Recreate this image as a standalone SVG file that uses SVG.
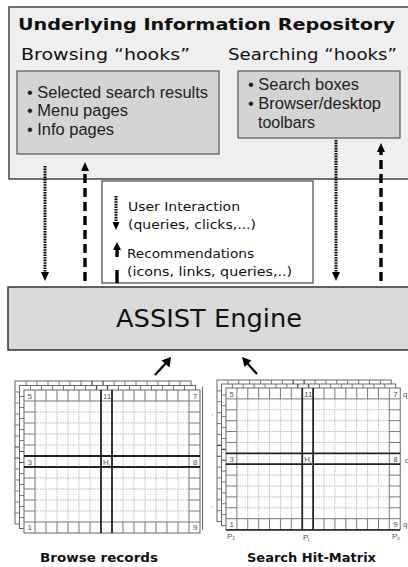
<svg xmlns="http://www.w3.org/2000/svg" xmlns:xlink="http://www.w3.org/1999/xlink" width="408" height="567" viewBox="0 0 408 567">
<style>
.v{font-family:"DejaVu Sans",Verdana,sans-serif;fill:#111}
.vb{font-family:"DejaVu Sans",Verdana,sans-serif;font-weight:bold;fill:#111}
.a{font-family:"Liberation Sans",Arial,sans-serif;fill:#222}
.lab{font-family:"Liberation Sans",Arial,sans-serif;font-size:8px;fill:#555}
.dot{stroke:#000;stroke-width:3;stroke-dasharray:1.6 1;fill:none}
.dash{stroke:#000;stroke-width:3.4;stroke-dasharray:9 5;fill:none}
.head{fill:#000}
.bd{stroke:#777;stroke-width:1;fill:none}
.in{stroke:#bbb;stroke-width:1;stroke-dasharray:1.5 1;fill:none}
.tk{stroke:#222;stroke-width:1.8;fill:none}
.tkb{stroke:#444;stroke-width:1.2;fill:none}
</style>
<defs>
<g id="grid">
<rect x="0" y="0" width="176" height="143" fill="#fff" stroke="#666" stroke-width="1"/>
<path class="in" d="M22,11V132M33,11V132M44,11V132M55,11V132M66,11V132M99,11V132M110,11V132M121,11V132M132,11V132M143,11V132M154,11V132M11,22H165M11,33H165M11,44H165M11,55H165M11,88H165M11,99H165M11,110H165M11,121H165"/>
<path class="bd" d="M0,11H176M0,132H176M11,0V143M165,0V143M22,0V11M33,0V11M44,0V11M55,0V11M66,0V11M99,0V11M110,0V11M121,0V11M132,0V11M143,0V11M154,0V11M22,132V143M33,132V143M44,132V143M55,132V143M66,132V143M99,132V143M110,132V143M121,132V143M132,132V143M143,132V143M154,132V143M0,22H11M0,33H11M0,44H11M0,55H11M0,88H11M0,99H11M0,110H11M0,121H11M165,22H176M165,33H176M165,44H176M165,55H176M165,88H176M165,99H176M165,110H176M165,121H176"/>
</g>
<g id="sheet">
<use xlink:href="#grid"/>
<path class="tk" d="M77,0V143M88,0V143M0,66H176M0,77H176"/>
</g>
<g id="sheetback">
<use xlink:href="#grid"/>
<path class="tkb" d="M77,0V143M88,0V143M0,66H176M0,77H176"/>
</g>
<g id="labels">
<text class="lab" x="3.5" y="9">5</text>
<text class="lab" x="79" y="9">11</text>
<text class="lab" x="169" y="9">7</text>
<text class="lab" x="3.5" y="75">3</text>
<text class="lab" x="79" y="75">H<tspan font-size="5" dy="1.5">j</tspan></text>
<text class="lab" x="169" y="75">8</text>
<text class="lab" x="3.5" y="140">1</text>
<text class="lab" x="169" y="140">9</text>
</g>
</defs>

<g id="repository">
<rect x="9" y="7" width="405" height="172" fill="#efefef" stroke="#444" stroke-width="1.5"/>
<text class="vb" x="18" y="30" font-size="15.5" textLength="377" lengthAdjust="spacingAndGlyphs">Underlying Information Repository</text>
</g>
<g id="browsing-hooks">
<text class="v" x="21" y="60" font-size="15" textLength="169" lengthAdjust="spacingAndGlyphs">Browsing “hooks”</text>
<rect x="17" y="71" width="202" height="83" fill="#d4d4d4" stroke="#555" stroke-width="1.2"/>
<text class="a" x="27" y="98" font-size="16" textLength="181" lengthAdjust="spacingAndGlyphs">• Selected search results</text>
<text class="a" x="27" y="116" font-size="16" textLength="101" lengthAdjust="spacingAndGlyphs">• Menu pages</text>
<text class="a" x="27" y="135" font-size="16" textLength="87" lengthAdjust="spacingAndGlyphs">• Info pages</text>
</g>
<g id="searching-hooks">
<text class="v" x="228" y="60" font-size="15" textLength="169" lengthAdjust="spacingAndGlyphs">Searching “hooks”</text>
<rect x="238" y="71" width="162" height="67" fill="#d4d4d4" stroke="#555" stroke-width="1.2"/>
<text class="a" x="248" y="90" font-size="16" textLength="111" lengthAdjust="spacingAndGlyphs">• Search boxes</text>
<text class="a" x="248" y="109" font-size="16" textLength="133" lengthAdjust="spacingAndGlyphs">• Browser/desktop</text>
<text class="a" x="258" y="128" font-size="16" textLength="57" lengthAdjust="spacingAndGlyphs">toolbars</text>
</g>

<g id="legend">
<rect x="102" y="181" width="211" height="102" fill="#fff" stroke="#444" stroke-width="1.2"/>
<path class="dot" d="M116,196V223"/>
<path class="head" d="M112.5,222L119.5,222L116,230Z"/>
<text class="v" x="128" y="211" font-size="13" textLength="112" lengthAdjust="spacingAndGlyphs">User Interaction</text>
<text class="v" x="128" y="229" font-size="13" textLength="128" lengthAdjust="spacingAndGlyphs">(queries, clicks,...)</text>
<path class="head" d="M113,250L121,250L117,242Z"/>
<path stroke="#000" stroke-width="3.4" d="M117,249V257M117,270V283"/>
<text class="v" x="127" y="258" font-size="13" textLength="127" lengthAdjust="spacingAndGlyphs">Recommendations</text>
<text class="v" x="127" y="276" font-size="13" textLength="165" lengthAdjust="spacingAndGlyphs">(icons, links, queries,..)</text>
</g>

<g id="engine">
<rect x="8" y="287" width="405" height="63" fill="#d9d9d9" stroke="#333" stroke-width="1.5"/>
<text class="v" x="116" y="327" font-size="24" textLength="186" lengthAdjust="spacingAndGlyphs">ASSIST Engine</text>
</g>

<g id="connectors">
<path class="dot" d="M45,166V273"/>
<path class="head" d="M41,272L49,272L45,281Z"/>
<path class="dash" d="M85,281V170"/>
<path class="head" d="M81,171L89,171L85,162Z"/>
<path class="dot" d="M336,140V273"/>
<path class="head" d="M332,272L340,272L336,281Z"/>
<path class="dash" d="M381,281V151"/>
<path class="head" d="M377,152L385,152L381,143Z"/>
<path stroke="#000" stroke-width="2.2" d="M155,375L166,363"/>
<path class="head" d="M171,357L169.5,367.5L161.5,360.5Z"/>
<path stroke="#000" stroke-width="2.2" d="M257,374L247,363"/>
<path class="head" d="M242,357L251.5,360.5L244.5,367Z"/>
</g>

<g id="browse-records">
<use xlink:href="#sheetback" x="15" y="381"/>
<use xlink:href="#sheetback" x="19.5" y="385.5"/>
<use xlink:href="#sheet" x="24" y="390"/>
<use xlink:href="#labels" x="24" y="390"/>
<text class="vb" x="40" y="562" font-size="12" textLength="118" lengthAdjust="spacingAndGlyphs">Browse records</text>
</g>

<g id="search-hit-matrix">
<line x1="202.5" y1="387" x2="202.5" y2="530" stroke="#666" stroke-width="1"/>
<rect x="212" y="414.5" width="1" height="1" fill="#888"/>
<rect x="212" y="506.5" width="1" height="1" fill="#888"/>
<g transform="translate(217,380) scale(0.99)"><use xlink:href="#sheetback"/></g>
<g transform="translate(221.5,384) scale(0.99)"><use xlink:href="#sheetback"/></g>
<g transform="translate(226,388) scale(0.99)"><use xlink:href="#sheet"/><use xlink:href="#labels"/></g>
<line x1="226" y1="530" x2="400" y2="530" stroke="#222" stroke-width="1.5"/>
<text class="lab" x="403" y="397">q</text>
<text class="lab" x="405" y="463">q</text>
<text class="lab" x="403" y="527">q</text>
<text class="lab" x="227" y="539">P<tspan font-size="5" dy="1">1</tspan></text>
<text class="lab" x="303" y="540">P<tspan font-size="5" dy="1">j</tspan></text>
<text class="lab" x="392" y="539">P<tspan font-size="5" dy="1">n</tspan></text>
<text class="vb" x="247" y="562" font-size="12" textLength="129" lengthAdjust="spacingAndGlyphs">Search Hit-Matrix</text>
</g>
</svg>
